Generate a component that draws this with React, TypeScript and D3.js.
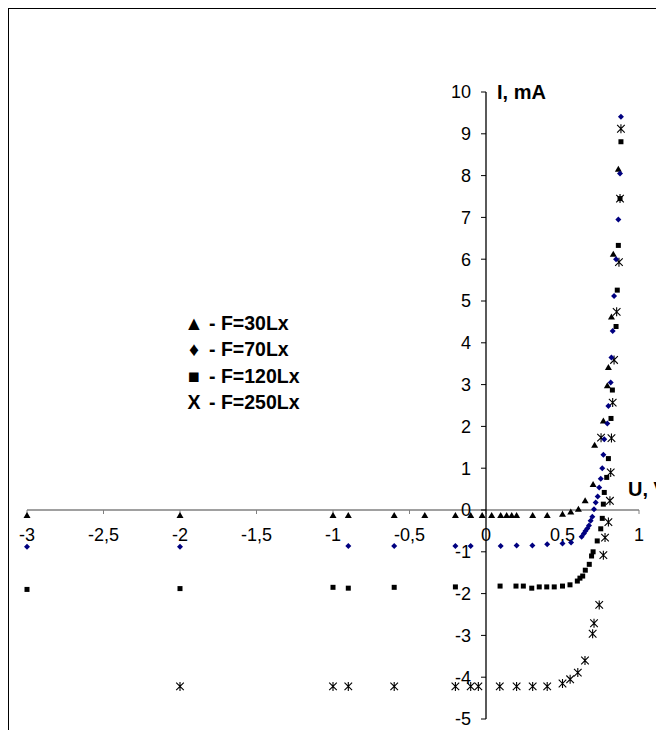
import React from "react";
import * as d3 from "d3";

// F = 30 Lx (triangles)
const u30 = [-3, -2, -1, -0.9, -0.6, -0.4, -0.2, -0.1, -0.025, 0.037, 0.096, 0.135, 0.168, 0.2, 0.305, 0.4, 0.5, 0.554, 0.604, 0.648, 0.7, 0.71, 0.767, 0.793, 0.8, 0.82, 0.832, 0.865];
const i30 = [-0.13, -0.13, -0.13, -0.13, -0.13, -0.13, -0.13, -0.13, -0.13, -0.13, -0.13, -0.13, -0.13, -0.13, -0.13, -0.13, -0.1, -0.05, 0.02, 0.22, 0.61, 1.55, 2.13, 2.97, 3.41, 4.62, 6.12, 8.15];

// F = 70 Lx (diamonds)
const u70 = [-3, -2, -0.9, -0.6, -0.2, -0.1, 0.096, 0.2, 0.303, 0.4, 0.5, 0.556, 0.625, 0.64, 0.65, 0.662, 0.673, 0.684, 0.695, 0.706, 0.717, 0.73, 0.74, 0.75, 0.76, 0.767, 0.773, 0.793, 0.8, 0.815, 0.82, 0.828, 0.837, 0.85, 0.865, 0.876, 0.882];
const i70 = [-0.88, -0.88, -0.86, -0.86, -0.86, -0.86, -0.86, -0.85, -0.85, -0.82, -0.8, -0.78, -0.64, -0.56, -0.5, -0.44, -0.37, -0.26, -0.16, 0.02, 0.18, 0.32, 0.54, 0.75, 1.0, 1.32, 1.69, 2.07, 2.49, 3.05, 3.65, 4.28, 5.12, 6.0, 6.95, 8.05, 9.41];

// F = 120 Lx (squares)
const u120 = [-3, -2, -1, -0.9, -0.6, -0.2, 0.092, 0.196, 0.244, 0.299, 0.348, 0.397, 0.446, 0.5, 0.549, 0.597, 0.614, 0.632, 0.649, 0.675, 0.69, 0.7, 0.727, 0.75, 0.76, 0.767, 0.773, 0.789, 0.8, 0.817, 0.826, 0.85, 0.858, 0.865, 0.876, 0.882];
const i120 = [-1.9, -1.88, -1.85, -1.87, -1.85, -1.84, -1.82, -1.82, -1.82, -1.87, -1.84, -1.84, -1.84, -1.82, -1.79, -1.7, -1.63, -1.58, -1.44, -1.3, -1.1, -1.0, -0.74, -0.45, -0.2, 0.14, 0.42, 0.78, 1.23, 2.19, 2.87, 4.39, 5.26, 6.33, 7.45, 8.81];

// F = 250 Lx (stars)
const u250 = [-2, -1, -0.9, -0.6, -0.2, -0.1, -0.05, 0.09, 0.2, 0.305, 0.4, 0.5, 0.55, 0.6, 0.647, 0.697, 0.706, 0.74, 0.767, 0.778, 0.8, 0.81, 0.815, 0.752, 0.82, 0.828, 0.837, 0.854, 0.869, 0.876, 0.882];
const i250 = [-4.22, -4.22, -4.22, -4.22, -4.22, -4.22, -4.22, -4.22, -4.22, -4.22, -4.22, -4.15, -4.05, -3.89, -3.6, -2.96, -2.71, -2.27, -1.08, -0.66, -0.29, 0.22, 0.9, 1.73, 1.72, 2.57, 3.59, 4.74, 5.93, 7.45, 9.12];

const xTicks = [-3, -2.5, -2, -1.5, -1, -0.5, 0, 0.5, 1];
const yTicks = [-5, -4, -3, -2, -1, 0, 1, 2, 3, 4, 5, 6, 7, 8, 9, 10];
const legendSymbols = ["▲", "♦", "■", "X"];
const legendLabels = ["- F=30Lx", "- F=70Lx", "- F=120Lx", "- F=250Lx"];

const W = 656;
const H = 722;
const FONT = "Arial, 'Liberation Sans', sans-serif";

const fmt = (v: number) => String(v).replace(".", ",");

export default function App() {
  const x = d3.scaleLinear().domain([-3, 1]).range([19, 631]);
  const y = d3.scaleLinear().domain([-5, 10]).range([711, 84]);
  const x0 = x(0);
  const y0 = y(0);

  const tri = "M0,-3.5L3.5,2.5L-3.5,2.5Z";
  const dia = "M0,-3L3,0L0,3L-3,0Z";
  const star = "M-3.8,-3.8L3.8,3.8M-3.8,3.8L3.8,-3.8M0,-4.5L0,4.5";

  return (
    <svg width={W} height={H} style={{ display: "block" }} fontFamily={FONT}>
      <rect x={0.5} y={0.5} width={800} height={900} fill="#fff" stroke="#000" strokeWidth={1} />

      {/* x axis */}
      <line x1={x(-3)} x2={x(1)} y1={y0} y2={y0} stroke="#808080" strokeWidth={1.3} />
      {xTicks.map((t) => (
        <g key={"xt" + t}>
          <line x1={x(t)} x2={x(t)} y1={y0} y2={y0 + 4} stroke="#808080" strokeWidth={1} />
          <text x={x(t)} y={y0 + 31} fontSize={18} textAnchor="middle" fill="#000">
            {fmt(t)}
          </text>
        </g>
      ))}

      {/* y axis */}
      <line x1={x0} x2={x0} y1={y(-5)} y2={y(10)} stroke="#000" strokeWidth={1.3} />
      {yTicks.map((t) => (
        <g key={"yt" + t}>
          <line x1={x0 - 5} x2={x0} y1={y(t)} y2={y(t)} stroke="#000" strokeWidth={1} />
          <text x={x0 - 15} y={y(t) + 6.4} fontSize={18} textAnchor="end" fill="#000">
            {fmt(t)}
          </text>
        </g>
      ))}

      <text x={x0 + 11} y={y(10) + 7} fontSize={20} fontWeight="bold">I, mA</text>
      <text x={620} y={y0 - 14} fontSize={20} fontWeight="bold">U, V</text>

      {/* series */}
      {u30.map((u, k) => (
        <path key={"a" + k} d={tri} transform={`translate(${x(u)},${y(i30[k])})`} fill="#000" />
      ))}
      {u120.map((u, k) => (
        <rect key={"c" + k} x={x(u) - 2.5} y={y(i120[k]) - 2.5} width={5} height={5} fill="#000" />
      ))}
      {u250.map((u, k) => (
        <path key={"d" + k} d={star} transform={`translate(${x(u)},${y(i250[k])})`} fill="none" stroke="#000" strokeWidth={1.1} />
      ))}
      {u70.map((u, k) => (
        <path key={"b" + k} d={dia} transform={`translate(${x(u)},${y(i70[k])})`} fill="#000080" />
      ))}

      {/* legend */}
      {legendLabels.map((l, k) => (
        <g key={"lg" + k} fontWeight="bold" fontSize={19.5}>
          <text x={186} y={322 + k * 26.3} textAnchor="middle">{legendSymbols[k]}</text>
          <text x={201} y={322 + k * 26.3}>{l}</text>
        </g>
      ))}
    </svg>
  );
}
